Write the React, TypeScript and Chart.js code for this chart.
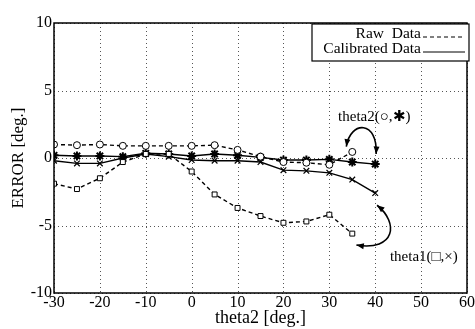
import { useEffect, useRef } from 'react';
import { Chart, registerables } from 'chart.js';
Chart.register(...registerables);

const xValues = [-30, -25, -20, -15, -10, -5, 0, 5, 10, 15, 20, 25, 30, 35, 40];
const rawTheta1 = [-1.9, -2.3, -1.5, -0.3, 0.3, 0.3, -1.0, -2.7, -3.7, -4.3, -4.8, -4.7, -4.2, -5.6];
const rawTheta2 = [1.0, 0.95, 1.0, 0.9, 0.9, 0.9, 0.9, 0.95, 0.6, 0.1, -0.3, -0.35, -0.5, 0.45];
const calTheta2 = [0.2, 0.15, 0.15, 0.1, 0.35, 0.3, 0.15, 0.3, 0.2, 0.05, -0.15, -0.15, -0.1, -0.3, -0.45];
const calTheta1 = [-0.2, -0.4, -0.4, 0.0, 0.3, 0.1, -0.15, -0.2, -0.2, -0.3, -0.9, -0.95, -1.1, -1.6, -2.6];

const xTicks = [-30, -20, -10, 0, 10, 20, 30, 40, 50, 60];
const yTicks = [-10, -5, 0, 5, 10];

const legendLabels = ['Raw  Data', 'Calibrated Data'];
const label2 = 'theta2(\u25CB,\u2731)';
const label1 = 'theta1(\u25A1,\u00D7)';
// annotation anchor points in data units
const label2Pos = { x: 39.8, y: 3.05 };
const label1Pos = { x: 50.6, y: -7.35 };
const arrow2 = [{ x: 33.7, y: 0.85 }, { x: 34.6, y: 2.8 }, { x: 40.6, y: 2.8 }, { x: 40.2, y: 0.3 }];
const arrow1 = [{ x: 40.4, y: -3.5 }, { x: 45.2, y: -4.8 }, { x: 44.4, y: -6.9 }, { x: 35.9, y: -6.45 }];

const SERIF = "'Liberation Serif', 'DejaVu Serif', serif";

const toPts = (ys: (number | null)[]) => ys.map((y, i) => ({ x: xValues[i], y }));

const dottedGrid = {
  id: 'dottedGrid',
  beforeDatasetsDraw(chart: any) {
    const ctx = chart.ctx;
    const { left, right, top, bottom } = chart.chartArea;
    const xs = chart.scales.x;
    const ys = chart.scales.y;
    ctx.save();
    ctx.strokeStyle = '#555';
    ctx.lineWidth = 1;
    ctx.setLineDash([1, 3]);
    xTicks.forEach((v) => {
      const px = Math.round(xs.getPixelForValue(v)) + 0.5;
      ctx.beginPath(); ctx.moveTo(px, top); ctx.lineTo(px, bottom); ctx.stroke();
    });
    yTicks.forEach((v) => {
      const py = Math.round(ys.getPixelForValue(v)) + 0.5;
      ctx.beginPath(); ctx.moveTo(left, py); ctx.lineTo(right, py); ctx.stroke();
    });
    ctx.restore();
  },
};

const overlay = {
  id: 'overlay',
  afterDraw(chart: any) {
    const ctx = chart.ctx;
    const { left, right, top, bottom } = chart.chartArea;
    const xs = chart.scales.x;
    const ys = chart.scales.y;
    ctx.save();
    // frame
    ctx.strokeStyle = '#000';
    ctx.lineWidth = 1.5;
    ctx.strokeRect(left, top, right - left, bottom - top);

    // legend box
    const bw = 157, bh = 37;
    const bx = right + 2 - bw, by = top + 1;
    ctx.fillStyle = '#fff';
    ctx.fillRect(bx, by, bw, bh);
    ctx.lineWidth = 1.2;
    ctx.strokeRect(bx, by, bw, bh);
    ctx.fillStyle = '#000';
    ctx.font = `15.5px ${SERIF}`;
    ctx.textAlign = 'right';
    ctx.textBaseline = 'middle';
    const tx = bx + 109;
    ctx.fillText(legendLabels[0], tx, by + 10);
    ctx.fillText(legendLabels[1], tx, by + 25);
    ctx.lineWidth = 1;
    ctx.setLineDash([4, 3]);
    ctx.beginPath();
    ctx.moveTo(tx + 2, by + 13); ctx.lineTo(bx + bw - 4, by + 13);
    ctx.stroke();
    ctx.setLineDash([]);
    ctx.beginPath();
    ctx.moveTo(tx + 2, by + 28); ctx.lineTo(bx + bw - 4, by + 28);
    ctx.stroke();

    // labels
    ctx.textAlign = 'center';
    ctx.font = `15px ${SERIF}`;
    ctx.fillText(label2, xs.getPixelForValue(label2Pos.x), ys.getPixelForValue(label2Pos.y));
    ctx.fillText(label1, xs.getPixelForValue(label1Pos.x), ys.getPixelForValue(label1Pos.y));

    const drawArrow = (pts: { x: number; y: number }[]) => {
      const p = pts.map((q) => ({ x: xs.getPixelForValue(q.x), y: ys.getPixelForValue(q.y) }));
      ctx.lineWidth = 1.6;
      ctx.strokeStyle = '#000';
      ctx.beginPath();
      ctx.moveTo(p[0].x, p[0].y);
      ctx.bezierCurveTo(p[1].x, p[1].y, p[2].x, p[2].y, p[3].x, p[3].y);
      ctx.stroke();
      const head = (tip: any, from: any) => {
        const a = Math.atan2(tip.y - from.y, tip.x - from.x);
        const L = 8, W = 0.38;
        ctx.beginPath();
        ctx.moveTo(tip.x, tip.y);
        ctx.lineTo(tip.x - L * Math.cos(a - W), tip.y - L * Math.sin(a - W));
        ctx.lineTo(tip.x - L * Math.cos(a + W), tip.y - L * Math.sin(a + W));
        ctx.closePath();
        ctx.fill();
      };
      head(p[0], p[1]);
      head(p[3], p[2]);
    };
    drawArrow(arrow2);
    drawArrow(arrow1);
    ctx.restore();
  },
};

export default function App() {
  const ref = useRef<HTMLCanvasElement>(null);
  useEffect(() => {
    if (!ref.current) return;
    const common = { borderColor: '#000', backgroundColor: '#fff', borderWidth: 1.4, pointBorderColor: '#000', pointBackgroundColor: '#fff' };
    const chart = new Chart(ref.current, {
      type: 'line',
      data: {
        datasets: [
          { ...common, label: 'raw theta1', data: toPts(rawTheta1), borderDash: [4, 3], pointStyle: 'rect', pointRadius: 3.5, pointBorderWidth: 1 },
          { ...common, label: 'raw theta2', data: toPts(rawTheta2), borderDash: [4, 3], pointStyle: 'circle', pointRadius: 3.5, pointBorderWidth: 1 },
          { ...common, label: 'cal theta1', data: toPts(calTheta1), pointStyle: 'crossRot', pointRadius: 4, pointBorderWidth: 1.2 },
          { ...common, label: 'cal theta2', data: toPts(calTheta2), pointStyle: 'star', pointRadius: 4.5, pointBorderWidth: 2 },
        ],
      },
      options: {
        animation: false,
        responsive: true,
        maintainAspectRatio: false,
        layout: { padding: { left: 0, top: 23, right: 7, bottom: 0 } },
        plugins: { legend: { display: false }, tooltip: { enabled: false } },
        scales: {
          x: {
            type: 'linear',
            min: -30,
            max: 60,
            afterBuildTicks: (s: any) => { s.ticks = xTicks.map((v) => ({ value: v })); },
            afterFit: (s: any) => { s.height = 36; },
            ticks: { color: '#000', font: { family: SERIF, size: 16 }, padding: 0, maxRotation: 0, autoSkip: false },
            grid: { display: false, drawTicks: false },
            border: { display: false },
            title: { display: true, text: 'theta2 [deg.]', color: '#000', font: { family: SERIF, size: 18 }, padding: { top: 0, bottom: 0 } },
          },
          y: {
            min: -10,
            max: 10,
            afterBuildTicks: (s: any) => { s.ticks = yTicks.map((v) => ({ value: v })); },
            afterFit: (s: any) => { s.width = 54; },
            ticks: { color: '#000', font: { family: SERIF, size: 16 }, padding: 2 },
            grid: { display: false, drawTicks: false },
            border: { display: false },
            title: { display: true, text: 'ERROR [deg.]', color: '#000', font: { family: SERIF, size: 17 }, padding: { top: 8, bottom: 0 } },
          },
        },
      },
      plugins: [dottedGrid, overlay],
    } as any);
    return () => chart.destroy();
  }, []);
  return (
    <div style={{ position: 'fixed', left: 0, top: 0, width: 475, height: 329, background: '#fff' }}>
      <canvas ref={ref} />
    </div>
  );
}
